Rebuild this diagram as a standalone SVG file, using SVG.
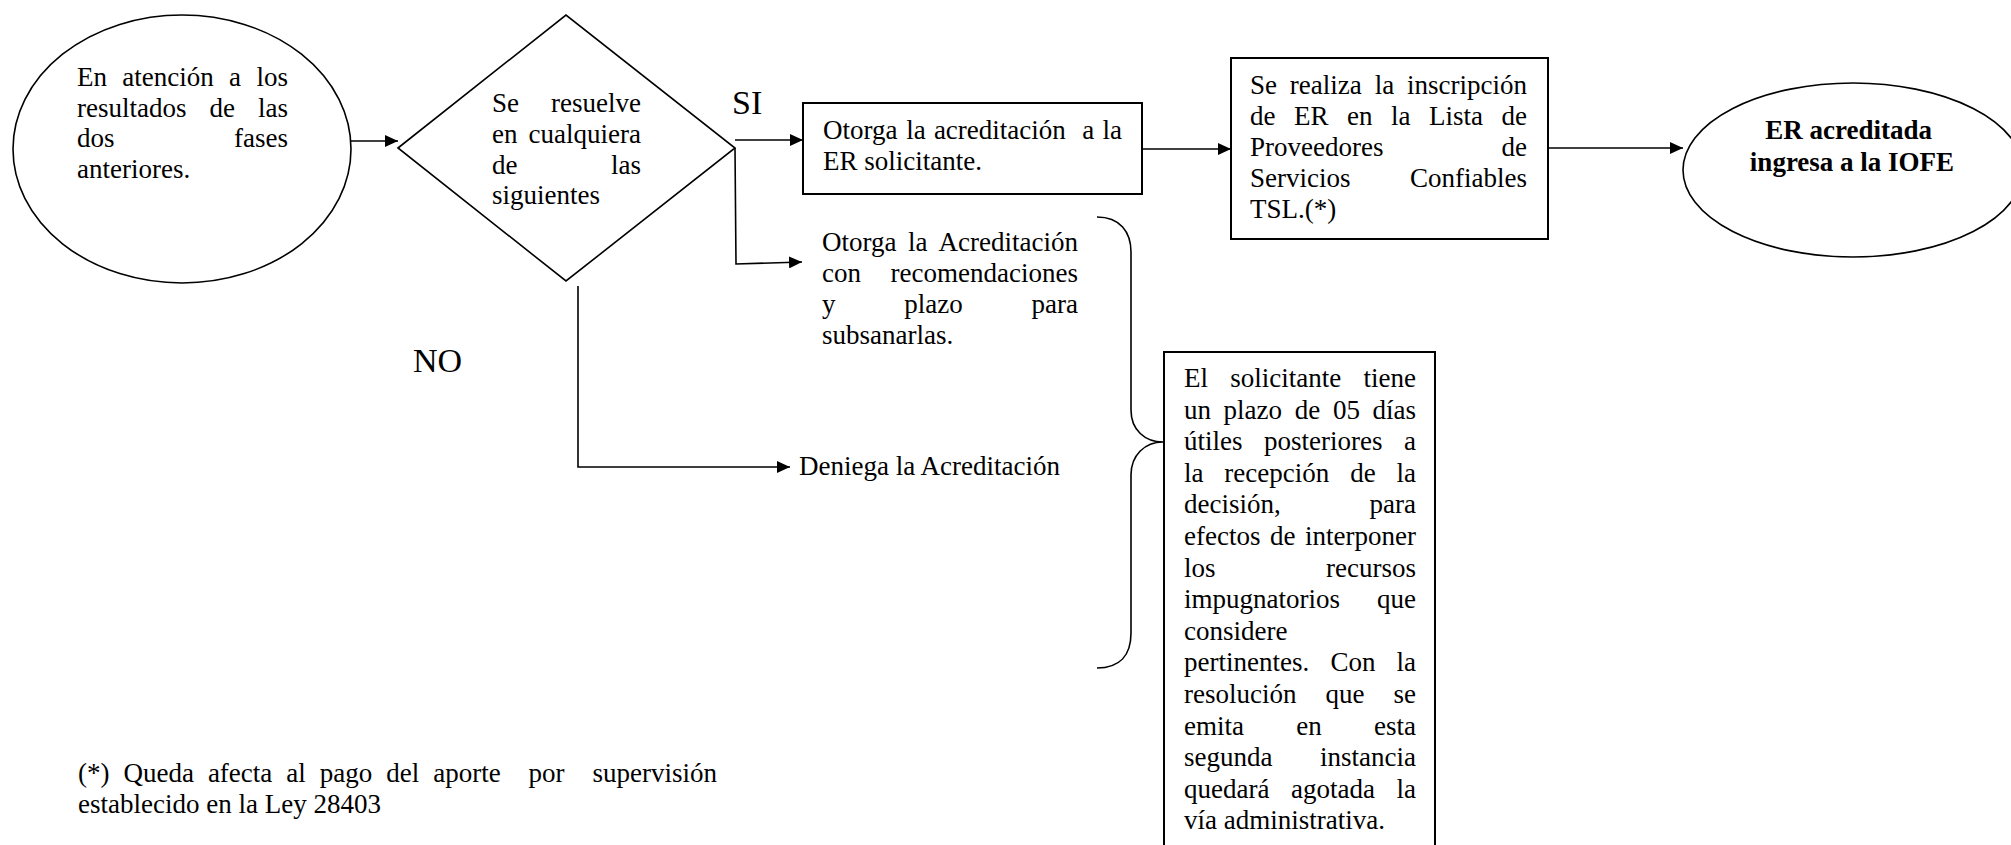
<svg xmlns="http://www.w3.org/2000/svg" width="2011" height="845" viewBox="0 0 2011 845">
<style>
.t{font-family:"Liberation Serif","Times New Roman",serif;font-size:27px;fill:#000}
.b{font-weight:bold}
.big{font-size:34px}
.shape{fill:#fff;stroke:#000;stroke-width:1.6}
.box{fill:#fff;stroke:#000;stroke-width:2}
.con{fill:none;stroke:#000;stroke-width:1.6}
</style>
<defs>
<marker id="arr" markerUnits="userSpaceOnUse" markerWidth="13" markerHeight="12" viewBox="0 0 13 12" refX="13" refY="6" orient="auto">
<path d="M0,0 L13,6 L0,12 z" fill="#000"/>
</marker>
</defs>
<rect width="2011" height="845" fill="#fff"/>

<g id="connectors">
<path class="con" d="M351,141 L398,141" marker-end="url(#arr)"/>
<path class="con" d="M735,140 L803,140" marker-end="url(#arr)"/>
<path class="con" d="M735,148 L736,264 L802,262" marker-end="url(#arr)"/>
<path class="con" d="M578,286 L578,467 L790,467" marker-end="url(#arr)"/>
<path class="con" d="M1142,149 L1231,149" marker-end="url(#arr)"/>
<path class="con" d="M1548,148 L1683,148" marker-end="url(#arr)"/>
</g>

<g id="n-start">
<ellipse class="shape" cx="182" cy="149" rx="169" ry="134"/>
<text class="t">
<tspan x="77" y="86">En</tspan><tspan x="122.3" y="86">atención</tspan><tspan x="229.1" y="86">a</tspan><tspan x="256.5" y="86">los</tspan>
<tspan x="77" y="117">resultados</tspan><tspan x="209.5" y="117">de</tspan><tspan x="258" y="117">las</tspan>
<tspan x="77" y="147">dos</tspan><tspan x="234" y="147">fases</tspan>
<tspan x="77" y="178">anteriores.</tspan>
</text>
</g>

<g id="n-decision">
<polygon class="shape" points="398,148 566,15 735,148 566,281"/>
<text class="t">
<tspan x="492" y="112">Se</tspan><tspan x="551" y="112">resuelve</tspan>
<tspan x="492" y="143">en</tspan><tspan x="528.5" y="143">cualquiera</tspan>
<tspan x="492" y="174">de</tspan><tspan x="611" y="174">las</tspan>
<tspan x="492" y="204">siguientes</tspan>
</text>
</g>

<g id="labels">
<text class="t big" x="732" y="114">SI</text>
<text class="t big" x="413" y="372">NO</text>
</g>

<g id="n-otorga">
<rect class="box" x="803" y="103" width="339" height="91"/>
<text class="t">
<tspan x="823" y="139">Otorga</tspan><tspan x="906.2" y="139">la</tspan><tspan x="933.9" y="139">acreditación</tspan><tspan x="1082.3" y="139">a</tspan><tspan x="1102.5" y="139">la</tspan>
<tspan x="823" y="170">ER solicitante.</tspan>
</text>
</g>

<g id="n-inscripcion">
<rect class="box" x="1231" y="58" width="317" height="181"/>
<text class="t">
<tspan x="1250" y="94">Se</tspan><tspan x="1289.8" y="94">realiza</tspan><tspan x="1374.7" y="94">la</tspan><tspan x="1407" y="94">inscripción</tspan>
<tspan x="1250" y="125">de</tspan><tspan x="1294" y="125">ER</tspan><tspan x="1347" y="125">en</tspan><tspan x="1391" y="125">la</tspan><tspan x="1429" y="125">Lista</tspan><tspan x="1501.5" y="125">de</tspan>
<tspan x="1250" y="156">Proveedores</tspan><tspan x="1501.5" y="156">de</tspan>
<tspan x="1250" y="187">Servicios</tspan><tspan x="1410" y="187">Confiables</tspan>
<tspan x="1250" y="218">TSL.(*)</tspan>
</text>
</g>

<g id="n-fin">
<ellipse class="shape" cx="1853" cy="170" rx="170" ry="87"/>
<text class="t b" text-anchor="middle">
<tspan x="1852" y="139">ER acreditada</tspan>
<tspan x="1852" y="171">ingresa a la IOFE</tspan>
</text>
</g>

<g id="n-recomendaciones">
<text class="t">
<tspan x="822" y="251">Otorga</tspan><tspan x="908" y="251">la</tspan><tspan x="938.5" y="251">Acreditación</tspan>
<tspan x="822" y="282">con</tspan><tspan x="890.6" y="282">recomendaciones</tspan>
<tspan x="822" y="313">y</tspan><tspan x="904.3" y="313">plazo</tspan><tspan x="1031.5" y="313">para</tspan>
<tspan x="822" y="344">subsanarlas.</tspan>
</text>
</g>

<g id="n-deniega">
<text class="t" x="799" y="475">Deniega la Acreditación</text>
</g>

<g id="brace">
<path class="con" stroke-width="1.8" d="M1097,217 C1120,217 1131,232 1131,252 L1131,410 C1131,430 1145,442 1163,442 C1145,442 1131,455 1131,475 L1131,633 C1131,655 1120,668 1097,668"/>
</g>

<g id="n-plazo">
<rect class="box" x="1164" y="352" width="271" height="510"/>
<text class="t">
<tspan x="1184" y="387">El</tspan><tspan x="1230.3" y="387">solicitante</tspan><tspan x="1363.5" y="387">tiene</tspan>
<tspan x="1184" y="418.6">un</tspan><tspan x="1223.6" y="418.6">plazo</tspan><tspan x="1294.8" y="418.6">de</tspan><tspan x="1332.9" y="418.6">05</tspan><tspan x="1372.5" y="418.6">días</tspan>
<tspan x="1184" y="450.2">útiles</tspan><tspan x="1264" y="450.2">posteriores</tspan><tspan x="1404" y="450.2">a</tspan>
<tspan x="1184" y="481.8">la</tspan><tspan x="1224.3" y="481.8">recepción</tspan><tspan x="1350.2" y="481.8">de</tspan><tspan x="1396.5" y="481.8">la</tspan>
<tspan x="1184" y="513.4">decisión,</tspan><tspan x="1369.5" y="513.4">para</tspan>
<tspan x="1184" y="545">efectos</tspan><tspan x="1270" y="545">de</tspan><tspan x="1305" y="545">interponer</tspan>
<tspan x="1184" y="576.6">los</tspan><tspan x="1326" y="576.6">recursos</tspan>
<tspan x="1184" y="608.2">impugnatorios</tspan><tspan x="1377" y="608.2">que</tspan>
<tspan x="1184" y="639.8">considere</tspan>
<tspan x="1184" y="671.4">pertinentes.</tspan><tspan x="1330.4" y="671.4">Con</tspan><tspan x="1396.5" y="671.4">la</tspan>
<tspan x="1184" y="703">resolución</tspan><tspan x="1325.5" y="703">que</tspan><tspan x="1393.5" y="703">se</tspan>
<tspan x="1184" y="734.6">emita</tspan><tspan x="1296.3" y="734.6">en</tspan><tspan x="1374" y="734.6">esta</tspan>
<tspan x="1184" y="766.2">segunda</tspan><tspan x="1320" y="766.2">instancia</tspan>
<tspan x="1184" y="797.8">quedará</tspan><tspan x="1291" y="797.8">agotada</tspan><tspan x="1396.5" y="797.8">la</tspan>
<tspan x="1184" y="829.4">vía administrativa.</tspan>
</text>
</g>

<g id="footnote">
<text class="t">
<tspan x="78" y="782">(*)</tspan><tspan x="123.5" y="782">Queda</tspan><tspan x="207.9" y="782">afecta</tspan><tspan x="286.3" y="782">al</tspan><tspan x="319.8" y="782">pago</tspan><tspan x="386.2" y="782">del</tspan><tspan x="433.2" y="782">aporte</tspan><tspan x="528.6" y="782">por</tspan><tspan x="592.5" y="782">supervisión</tspan>
<tspan x="78" y="813">establecido en la Ley 28403</tspan>
</text>
</g>
</svg>
